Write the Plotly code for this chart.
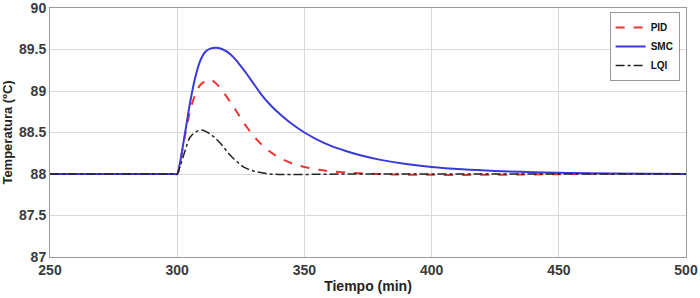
import plotly.graph_objects as go

# Data
t_smc = [250, 299, 300, 301, 303, 305, 307, 309, 311, 313, 315.5, 318, 321, 324, 327, 330, 333, 337, 341, 345, 350, 355, 360, 366, 372, 380, 390, 400, 412, 425, 440, 455, 470, 485, 500]
v_smc = [88, 88, 88, 88.12, 88.48, 88.85, 89.15, 89.36, 89.47, 89.51, 89.52, 89.50, 89.44, 89.34, 89.22, 89.09, 88.96, 88.82, 88.705, 88.605, 88.50, 88.415, 88.345, 88.28, 88.225, 88.17, 88.12, 88.085, 88.057, 88.037, 88.022, 88.013, 88.007, 88.003, 88.001]

t_pid = [250, 299, 300, 301, 303, 305, 307, 309, 311, 312.7, 315, 317, 319, 321, 323, 325, 327.5, 330, 333, 336, 340, 345, 350, 357, 365, 375, 385, 400, 420, 440, 460, 500]
v_pid = [88, 88, 88, 88.12, 88.45, 88.75, 88.95, 89.07, 89.12, 89.14, 89.10, 89.03, 88.95, 88.86, 88.77, 88.67, 88.56, 88.46, 88.36, 88.28, 88.20, 88.13, 88.085, 88.045, 88.02, 88.005, 87.995, 87.99, 87.99, 87.995, 88.0, 88.0]

t_lqi = [250, 299, 300, 301, 303, 305, 307, 309.5, 312, 314.3, 317, 319.6, 322, 324.8, 327, 330, 335, 340, 350, 370, 500]
v_lqi = [88, 88, 88, 88.08, 88.27, 88.44, 88.50, 88.53, 88.50, 88.45, 88.37, 88.27, 88.19, 88.115, 88.07, 88.036, 88.005, 87.995, 87.995, 88.0, 88.0]

x_ticks = [250, 300, 350, 400, 450, 500]
y_ticks = [87, 87.5, 88, 88.5, 89, 89.5, 90]
y_tick_labels = ["87", "87.5", "88", "88.5", "89", "89.5", "90"]

fig = go.Figure()
fig.add_trace(go.Scatter(x=t_pid, y=v_pid, name="<b>PID</b>", mode="lines",
                         line=dict(color="#ee3333", width=2, dash="dash", shape="spline", smoothing=1.0)))
fig.add_trace(go.Scatter(x=t_smc, y=v_smc, name="<b>SMC</b>", mode="lines",
                         line=dict(color="#3a3ad8", width=2, shape="spline", smoothing=1.0)))
fig.add_trace(go.Scatter(x=t_lqi, y=v_lqi, name="<b>LQI</b>", mode="lines",
                         line=dict(color="#222222", width=1.5, dash="dashdot", shape="spline", smoothing=1.0)))

axis_common = dict(showgrid=True, gridcolor="#d9d9d9", gridwidth=1,
                   showline=True, linecolor="#9a9a9a", linewidth=1, mirror=True,
                   ticks="", zeroline=False, automargin=False, ticklabeloverflow="allow",
                   tickfont=dict(family="Arial, Liberation Sans", size=14, color="#3a3a3a"))

fig.update_layout(
    width=700, height=298,
    margin=dict(l=50, r=14, t=8, b=41),
    paper_bgcolor="white", plot_bgcolor="white",
    font=dict(family="Arial, Liberation Sans", color="#222"),
    legend=dict(x=0.99, y=0.984, xanchor="right", yanchor="top",
                bordercolor="#999", borderwidth=1, bgcolor="white",
                font=dict(size=10, color="#111", family="Arial, Liberation Sans"),
                itemwidth=30, tracegroupgap=0),
)
fig.update_xaxes(range=[250, 500], tickvals=x_ticks, ticktext=["<b>%d</b>" % v for v in x_ticks],
                 title=dict(text="<b>Tiempo (min)</b>", font=dict(size=14, color="#222"), standoff=4),
                 **axis_common)
fig.update_yaxes(range=[87, 90], tickvals=y_ticks, ticktext=["<b>%s</b>" % s for s in y_tick_labels],
                 title=dict(text="<b>Temperatura (ºC)</b>", font=dict(size=13, color="#222"), standoff=4),
                 **axis_common)

fig.write_html("out.html", config={"displayModeBar": False},
               post_script="document.body.style.margin='0';document.body.style.padding='0';")
